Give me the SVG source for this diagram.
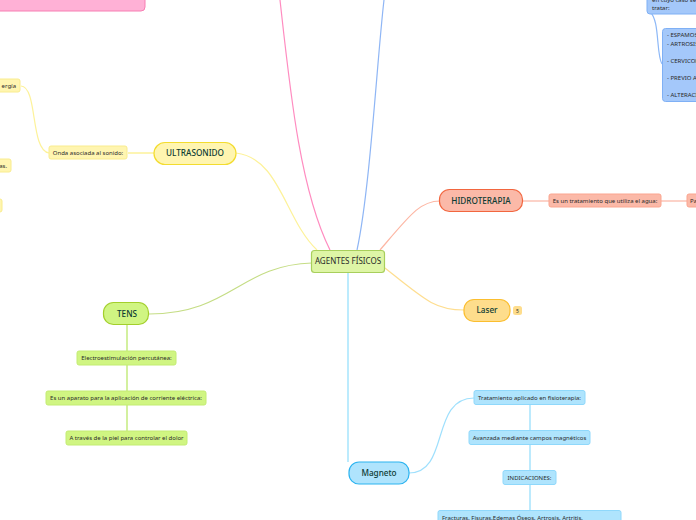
<svg xmlns="http://www.w3.org/2000/svg" width="696" height="520" viewBox="0 0 696 520">
<style>
text{font-family:"Noto Sans","Open Sans",sans-serif;fill:#2a2a2a;text-anchor:middle}
.m{font-size:8.200px;font-weight:500;fill:#0c3b33}
.s{font-size:6px}
.l{font-size:6px;text-anchor:start}
.c{fill:none;stroke-width:1.200}
.y rect{fill:#fff5b0;stroke:#f9ec8e}
.g rect{fill:#d0f582;stroke:#c3ec73}
.b rect{fill:#afe4fd;stroke:#8fd8fb}
.r rect{fill:#fbb9a8;stroke:#fba58f}
.u rect{fill:#a4c8fa;stroke:#7fb0f5}
</style>
<g id="connectors" class="c">
<path d="M280 0C290 90 300 190 330 250" stroke="#ff8cc0"/>
<path d="M384 0C377 60 370 190 357 250" stroke="#8fb6f5"/>
<path d="M236 153C280 158 285 220 317 250" stroke="#fdf29a"/>
<path d="M149 314C230 314 240 265 312 263" stroke="#c5dd85"/>
<path d="M348 272V462" stroke="#a6e4fd" stroke-width="1.500"/>
<path d="M380 250C410 215 420 201 440 201" stroke="#fdb6a3"/>
<path d="M385 268C425 300 435 310 464 310" stroke="#fede90"/>
<path d="M523 201H549M661 201H687" stroke="#fcc4b6" stroke-width="1.500"/>
<path d="M127 325V351M127 365V391M127 405V431" stroke="#c5ec80" stroke-width="1.500"/>
<path d="M409 473C450 473 430 398 474 398" stroke="#9fe0fd"/>
<path d="M530 405V431M530 445V471M530 485V511" stroke="#a6e4fd" stroke-width="1.500"/>
<path d="M154 153H128" stroke="#fdf29a" stroke-width="1.500"/>
<path d="M49 153C30 150 38 87 21 86" stroke="#fdf29a"/>
<path d="M650 12C660 20 656 55 662 64" stroke="#8db8f7"/>
</g>
<g id="n1"><rect x="-30" y="-20" width="175" height="31" rx="4" fill="#ffb1d6" stroke="#f77fb3"/></g>
<g id="root"><rect x="311.500" y="250.500" width="73" height="22" rx="3" fill="#def5a6" stroke="#a8cf5c" stroke-width="1.200"/><text x="348" y="264" style="font-size:8px">AGENTES FÍSICOS</text></g>
<g id="ultrasonido" class="y"><rect x="154" y="142.500" width="82" height="22" rx="11" style="stroke:#f3dc2f;stroke-width:1.200"/><text class="m" x="195" y="156">ULTRASONIDO</text></g>
<g id="onda" class="y"><rect x="49" y="146" width="78" height="13" rx="2"/><text class="s" x="88" y="155">Onda asociada al sonido:</text></g>
<g id="energia" class="y"><rect x="-40" y="79" width="60" height="13" rx="2"/><text class="s" x="16" y="88" style="text-anchor:end">ergía</text></g>
<g id="clip2" class="y"><rect x="-40" y="159" width="51" height="13" rx="2"/><text class="s" x="7" y="168" style="text-anchor:end">as.</text></g>
<g id="clip3" class="y"><rect x="-40" y="199" width="42" height="13" rx="2"/></g>
<g id="tens" class="g"><rect x="103.500" y="302.500" width="45" height="22" rx="10" style="stroke:#a3cf2c;stroke-width:1.200"/><text class="m" x="127" y="317">TENS</text></g>
<g id="t1" class="g"><rect x="77" y="351" width="99" height="14" rx="2"/><text class="s" x="126.500" y="360">Electroestimulación percutánea:</text></g>
<g id="t2" class="g"><rect x="46" y="391" width="160" height="14" rx="2"/><text class="s" x="126" y="400">Es un aparato para la aplicación de corriente eléctrica:</text></g>
<g id="t3" class="g"><rect x="66" y="431" width="121" height="14" rx="2"/><text class="s" x="126.500" y="440">A través de la piel para controlar el dolor</text></g>
<g id="hidro" class="r"><rect x="439.500" y="189.500" width="83" height="22" rx="10" style="stroke:#f2663f;stroke-width:1.200"/><text class="m" x="481" y="204">HIDROTERAPIA</text></g>
<g id="h1" class="r"><rect x="549" y="194" width="112" height="13" rx="2"/><text class="s" x="605" y="203">Es un tratamiento que utiliza el agua:</text></g>
<g id="h2" class="r"><rect x="687" y="194" width="40" height="13" rx="2"/><text class="l" x="690" y="203">Pa</text></g>
<g id="laser"><rect x="464" y="299.500" width="46" height="22" rx="10" fill="#fedd8c" stroke="#fbbe2f" stroke-width="1.200"/><text class="m" x="487" y="313">Laser</text></g>
<g id="badge"><rect x="513" y="306" width="9" height="9" rx="2.500" fill="#fedd8c"/><text x="517.500" y="312.500" style="font-size:5px">5</text></g>
<g id="magneto" class="b"><rect x="349" y="462" width="60" height="22" rx="10" style="stroke:#2db4f0;stroke-width:1.200"/><text class="m" x="379" y="476">Magneto</text></g>
<g id="m1" class="b"><rect x="474" y="390.500" width="111" height="14" rx="2"/><text class="s" x="529.500" y="400">Tratamiento aplicado en fisioterapia:</text></g>
<g id="m2" class="b"><rect x="469" y="430.500" width="121" height="14" rx="2"/><text class="s" x="529.500" y="440">Avanzada mediante campos magnéticos</text></g>
<g id="m3" class="b"><rect x="503" y="470.500" width="53" height="14" rx="2"/><text class="s" x="529.500" y="480">INDICACIONES:</text></g>
<g id="m4" class="b"><rect x="438" y="510.500" width="183" height="30" rx="2"/><text class="l" x="442" y="520">Fracturas, Fisuras,Edemas Óseos, Artrosis, Artritis,</text></g>
<g id="u1" class="u"><rect x="647" y="-20" width="80" height="34" rx="3"/><text class="l" x="652" y="2">en cuyo caso se</text><text class="l" x="652" y="10">tratar:</text></g>
<g id="u2" class="u"><rect x="662.500" y="28.500" width="60" height="73" rx="3"/><text class="l" x="667" y="37">- ESPAMOS</text><text class="l" x="667" y="46">- ARTROSIS</text><text class="l" x="667" y="63">- CERVICOB</text><text class="l" x="667" y="80">- PREVIO A</text><text class="l" x="667" y="97">- ALTERACI</text></g>
</svg>
